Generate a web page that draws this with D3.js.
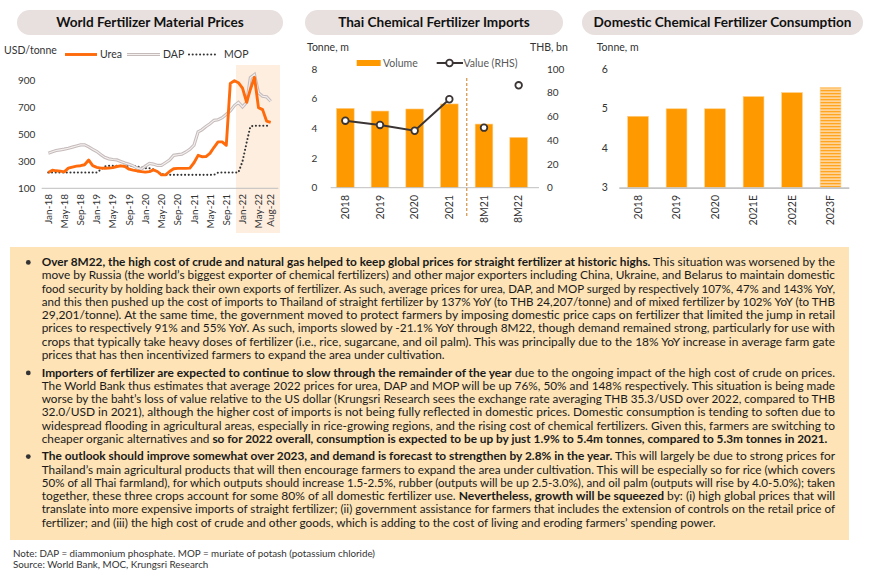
<!DOCTYPE html>
<html>
<head>
<meta charset="utf-8">
<script src="https://cdn.jsdelivr.net/npm/d3@7"></script>
<style>
  body { margin: 0; background: #fff; }
  svg { display: block; font-family: Lato, "Open Sans", sans-serif; }
</style>
</head>
<body>
<svg id="chart" width="870" height="579"></svg>
<script>

// ---- data: world fertilizer prices (USD/tonne), Jan-18 .. Aug-22
var months = d3.timeMonth.range(new Date(2018, 0, 1), new Date(2022, 8, 1));
var urea = [217, 235, 230, 228, 222, 250, 258, 265, 268, 275, 310, 268,
            256, 250, 249, 250, 254, 262, 267, 262, 242, 235, 229, 224,
            220, 224, 237, 225, 200, 200, 225, 245, 248, 248, 248, 250,
            290, 345, 335, 336, 360, 405, 445, 445, 420, 880, 900, 885,
            845, 740, 835, 925, 700, 685, 600, 590];
var dap = [361, 372, 381, 386, 391, 398, 406, 415, 423, 423, 408, 390,
           373, 350, 330, 319, 314, 311, 300, 288, 278, 267, 250, 242,
           265, 285, 280, 270, 270, 290, 310, 345, 350, 354, 370, 390,
           420, 520, 535, 560, 580, 605, 610, 625, 650, 675, 715, 739,
           705, 739, 922, 946, 810, 784, 780, 747];
var mop = [217, 217, 217, 217, 217, 217, 217, 217, 217, 217, 217, 217,
           217, 240, 262, 267, 267, 267, 267, 267, 267, 267, 262, 255,
           250, 249, 240, 222, 205, 200, 200, 200, 200, 200, 200, 200,
           200, 200, 200, 200, 200, 200, 217, 217, 217, 217, 217, 217,
           300, 440, 560, 565, 565, 565, 565, 565];
var priceTicks = [100, 300, 500, 700, 900];
var monthTicks = ["Jan-18", "May-18", "Sep-18", "Jan-19", "May-19", "Sep-19", "Jan-20",
                  "May-20", "Sep-20", "Jan-21", "May-21", "Sep-21", "Jan-22", "May-22", "Aug-22"];

// ---- data: Thai imports
var importCats = ["2018", "2019", "2020", "2021", "8M21", "8M22"];
var importVolume = [5.36, 5.18, 5.32, 5.66, 4.30, 3.40];   // tonne, m
var importValue = [56.6, 53.0, 48.1, 74.7, 50.7, 86.5];    // THB bn
var importTicksL = [0, 2, 4, 6, 8];
var importTicksR = [0, 20, 40, 60, 80, 100];

// ---- data: domestic consumption
var consCats = ["2018", "2019", "2020", "2021E", "2022E", "2023F"];
var consVolume = [4.81, 5.0, 5.0, 5.31, 5.41, 5.54];
var consTicks = [3, 4, 5, 6];

var svg = d3.select("#chart");
var orange = "#ff9900";

var defs = svg.append("defs");
var pat = defs.append("pattern")
    .attr("id", "stripes")
    .attr("patternUnits", "userSpaceOnUse")
    .attr("width", 6).attr("height", 3);
pat.append("rect").attr("width", 6).attr("height", 3).attr("fill", "#fed49a");
pat.append("rect").attr("width", 6).attr("height", 1.3).attr("fill", "#ffa51f");

// title pill helper
function pill(x0, x1, label) {
    svg.append("rect")
        .attr("x", x0).attr("y", 10)
        .attr("width", x1 - x0).attr("height", 25)
        .attr("rx", 12.5)
        .attr("fill", "#e8e0de");
    svg.append("text")
        .attr("x", (x0 + x1) / 2).attr("y", 27.3)
        .attr("text-anchor", "middle")
        .attr("font-size", "13.6px")
        .attr("font-weight", "bold")
        .attr("fill", "#111")
        .text(label);
}

function label(x, y, txt, opts) {
    opts = opts || {};
    return svg.append("text")
        .attr("x", x).attr("y", y)
        .attr("font-size", opts.size || "10.5px")
        .attr("fill", opts.fill || "#333")
        .attr("text-anchor", opts.anchor || "start")
        .text(txt);
}

// =================== chart 1: World Fertilizer Material Prices
pill(17, 283, "World Fertilizer Material Prices");

var x1 = d3.scaleTime()
    .domain([months[0], months[months.length - 1]])
    .range([48.3, 270.7]);
var y1 = d3.scaleLinear().domain([100, 900]).range([188.3, 80.7]);

// shaded 2022 window
svg.append("rect")
    .attr("x", x1(new Date(2021, 10, 13)))
    .attr("y", 65)
    .attr("width", 280 - x1(new Date(2021, 10, 13)))
    .attr("height", 168)
    .attr("fill", "#fdeee0");

svg.append("line")
    .attr("x1", 41.7).attr("x2", 278.3)
    .attr("y1", y1(100)).attr("y2", y1(100))
    .attr("stroke", "#bfbfbf").attr("stroke-width", 1);

svg.selectAll(".ytick1")
    .data(priceTicks)
    .enter()
    .append("text")
    .attr("x", 18)
    .attr("y", function(d) { return y1(d); })
    .attr("dy", "0.35em")
    .attr("font-size", "10px")
    .attr("fill", "#333")
    .text(function(d) { return d; });

var parseMon = d3.timeParse("%b-%y");
svg.selectAll(".xtick1")
    .data(monthTicks)
    .enter()
    .append("text")
    .attr("transform", function(d) {
        return "translate(" + (x1(parseMon(d)) + 3.6) + ",194) rotate(-90)";
    })
    .attr("text-anchor", "end")
    .attr("font-size", "10px")
    .attr("fill", "#333")
    .text(function(d) { return d; });

var line1 = d3.line()
    .x(function(d, i) { return x1(months[i]); })
    .y(function(d) { return y1(d); });

svg.append("path").datum(mop).attr("d", line1)
    .attr("fill", "none").attr("stroke", "#333")
    .attr("stroke-width", 2.1).attr("stroke-linecap", "round")
    .attr("stroke-dasharray", "0,3.7");
svg.append("path").datum(dap).attr("d", line1)
    .attr("fill", "none").attr("stroke", "#c6bbbb").attr("stroke-width", 3.2);
svg.append("path").datum(dap).attr("d", line1)
    .attr("fill", "none").attr("stroke", "#f4f0f0").attr("stroke-width", 1.1);
svg.append("path").datum(urea).attr("d", line1)
    .attr("fill", "none").attr("stroke", "#ff6a0a").attr("stroke-width", 2.9)
    .attr("stroke-linejoin", "round");

// legend
label(4, 54, "USD/tonne");
svg.append("line").attr("x1", 65).attr("x2", 97).attr("y1", 54.5).attr("y2", 54.5)
    .attr("stroke", "#ff6a0a").attr("stroke-width", 2.9);
label(100, 58, "Urea");
svg.append("line").attr("x1", 127).attr("x2", 160).attr("y1", 54.5).attr("y2", 54.5)
    .attr("stroke", "#c6bbbb").attr("stroke-width", 3.2);
svg.append("line").attr("x1", 127).attr("x2", 160).attr("y1", 54.5).attr("y2", 54.5)
    .attr("stroke", "#f4f0f0").attr("stroke-width", 1.1);
label(163, 58, "DAP");
svg.append("line").attr("x1", 189).attr("x2", 218).attr("y1", 54.5).attr("y2", 54.5)
    .attr("stroke", "#333").attr("stroke-width", 2.1)
    .attr("stroke-linecap", "round").attr("stroke-dasharray", "0,3.7");
label(224, 58, "MOP");

// =================== chart 2: Thai Chemical Fertilizer Imports
pill(305, 563, "Thai Chemical Fertilizer Imports");

var x2 = d3.scaleBand().domain(importCats).range([328, 536]).paddingInner(0.49).paddingOuter(0.245);
var y2 = d3.scaleLinear().domain([0, 8]).range([187.7, 69.3]);
var y2r = d3.scaleLinear().domain([0, 100]).range([187.7, 69.3]);

label(307, 51, "Tonne, m");
label(530, 51, "THB, bn");

svg.selectAll(".ytickL2").data(importTicksL).enter().append("text")
    .attr("x", 311.5).attr("y", function(d) { return y2(d); }).attr("dy", "0.35em")
    .attr("font-size", "10px").attr("fill", "#333")
    .text(function(d) { return d; });
svg.selectAll(".ytickR2").data(importTicksR).enter().append("text")
    .attr("x", 547).attr("y", function(d) { return y2r(d); }).attr("dy", "0.35em")
    .attr("font-size", "10px").attr("fill", "#333")
    .text(function(d) { return d; });

svg.selectAll(".bar2")
    .data(importVolume)
    .enter()
    .append("rect")
    .attr("x", function(d, i) { return x2(importCats[i]); })
    .attr("y", function(d) { return y2(d); })
    .attr("width", x2.bandwidth())
    .attr("height", function(d) { return y2(0) - y2(d); })
    .attr("fill", orange)
    .attr("stroke", "#ffd08a").attr("stroke-width", 0.6);

svg.append("line")
    .attr("x1", 330.7).attr("x2", 539)
    .attr("y1", y2(0)).attr("y2", y2(0))
    .attr("stroke", "#bfbfbf");

// divider between full year and 8M
svg.append("line")
    .attr("x1", 466.7).attr("x2", 466.7).attr("y1", 78).attr("y2", 218)
    .attr("stroke", "#d9a35f").attr("stroke-width", 1.4)
    .attr("stroke-dasharray", "3,2");

var line2 = d3.line()
    .x(function(d, i) { return x2(importCats[i]) + x2.bandwidth() / 2; })
    .y(function(d) { return y2r(d); });
svg.append("path").datum(importValue.slice(0, 4)).attr("d", line2)
    .attr("fill", "none").attr("stroke", "#3b3434").attr("stroke-width", 2);
svg.selectAll(".dot2")
    .data(importValue)
    .enter()
    .append("circle")
    .attr("cx", function(d, i) { return x2(importCats[i]) + x2.bandwidth() / 2; })
    .attr("cy", function(d) { return y2r(d); })
    .attr("r", 3.3)
    .attr("fill", "#fff").attr("stroke", "#3b3434").attr("stroke-width", 1.8);

svg.selectAll(".xtick2").data(importCats).enter().append("text")
    .attr("transform", function(d) {
        return "translate(" + (x2(d) + x2.bandwidth() / 2 + 3.6) + ",195) rotate(-90)";
    })
    .attr("text-anchor", "end").attr("font-size", "10.5px").attr("fill", "#333")
    .text(function(d) { return d; });

// legend
svg.append("rect").attr("x", 356.7).attr("y", 60).attr("width", 24).attr("height", 6).attr("fill", orange);
label(383, 66.8, "Volume", { fill: "#595959" });
svg.append("line").attr("x1", 436.7).attr("x2", 463).attr("y1", 63).attr("y2", 63)
    .attr("stroke", "#3b3434").attr("stroke-width", 2);
svg.append("circle").attr("cx", 449.5).attr("cy", 63).attr("r", 3.3)
    .attr("fill", "#fff").attr("stroke", "#3b3434").attr("stroke-width", 1.8);
label(463.5, 66.8, "Value (RHS)", { fill: "#595959" });

// =================== chart 3: Domestic Chemical Fertilizer Consumption
pill(582, 863, "Domestic Chemical Fertilizer Consumption");

var x3 = d3.scaleBand().domain(consCats).range([618.8, 849.8]).paddingInner(0.46).paddingOuter(0.23);
var y3 = d3.scaleLinear().domain([3, 6]).range([187.7, 69.3]);

label(596.7, 51, "Tonne, m");
svg.selectAll(".ytick3").data(consTicks).enter().append("text")
    .attr("x", 601.7).attr("y", function(d) { return y3(d); }).attr("dy", "0.35em")
    .attr("font-size", "10.5px").attr("fill", "#333")
    .text(function(d) { return d; });

svg.selectAll(".bar3")
    .data(consVolume)
    .enter()
    .append("rect")
    .attr("x", function(d, i) { return x3(consCats[i]); })
    .attr("y", function(d) { return y3(d); })
    .attr("width", x3.bandwidth())
    .attr("height", function(d) { return y3(3) - y3(d); })
    .attr("fill", function(d, i) { return consCats[i].slice(-1) === "F" ? "url(#stripes)" : orange; })
    .attr("stroke", "#ffd08a").attr("stroke-width", 0.6);

svg.append("line")
    .attr("x1", 619.3).attr("x2", 849.3)
    .attr("y1", y3(3) + 0.5).attr("y2", y3(3) + 0.5)
    .attr("stroke", "#c4c4c4").attr("stroke-width", 1.8);

svg.selectAll(".xtick3").data(consCats).enter().append("text")
    .attr("transform", function(d) {
        return "translate(" + (x3(d) + x3.bandwidth() / 2 + 3.6) + ",195) rotate(-90)";
    })
    .attr("text-anchor", "end").attr("font-size", "10.5px").attr("fill", "#333")
    .text(function(d) { return d; });

// =================== commentary box
svg.append("rect")
    .attr("x", 10).attr("y", 247)
    .attr("width", 839).attr("height", 293)
    .attr("fill", "#fde3b6");

// each line: list of [text, bold]
var paragraphs = [
  [
    [["Over 8M22, the high cost of crude and natural gas helped to keep global prices for straight fertilizer at historic highs.", 1], [" This situation was worsened by the", 0]],
    [["move by Russia (the world\u2019s biggest exporter of chemical fertilizers) and other major exporters including China, Ukraine, and Belarus to maintain domestic", 0]],
    [["food security by holding back their own exports of fertilizer. As such, average prices for urea, DAP, and MOP surged by respectively 107%, 47% and 143% YoY,", 0]],
    [["and this then pushed up the cost of imports to Thailand of straight fertilizer by 137% YoY (to THB 24,207/tonne) and of mixed fertilizer by 102% YoY (to THB", 0]],
    [["29,201/tonne). At the same time, the government moved to protect farmers by imposing domestic price caps on fertilizer that limited the jump in retail", 0]],
    [["prices to respectively 91% and 55% YoY. As such, imports slowed by -21.1% YoY through 8M22, though demand remained strong, particularly for use with", 0]],
    [["crops that typically take heavy doses of fertilizer (i.e., rice, sugarcane, and oil palm). This was principally due to the 18% YoY increase in average farm gate", 0]],
    [["prices that has then incentivized farmers to expand the area under cultivation.", 0]]
  ],
  [
    [["Importers of fertilizer are expected to continue to slow through the remainder of the year", 1], [" due to the ongoing impact of the high cost of crude on prices.", 0]],
    [["The World Bank thus estimates that average 2022 prices for urea, DAP and MOP will be up 76%, 50% and 148% respectively. This situation is being made", 0]],
    [["worse by the baht\u2019s loss of value relative to the US dollar (Krungsri Research sees the exchange rate averaging THB 35.3/USD over 2022, compared to THB", 0]],
    [["32.0/USD in 2021), although the higher cost of imports is not being fully reflected in domestic prices. Domestic consumption is tending to soften due to", 0]],
    [["widespread flooding in agricultural areas, especially in rice-growing regions, and the rising cost of chemical fertilizers. Given this, farmers are switching to", 0]],
    [["cheaper organic alternatives and ", 0], ["so for 2022 overall, consumption is expected to be up by just 1.9% to 5.4m tonnes, compared to 5.3m tonnes in 2021.", 1]]
  ],
  [
    [["The outlook should improve somewhat over 2023, and demand is forecast to strengthen by 2.8% in the year.", 1], [" This will largely be due to strong prices for", 0]],
    [["Thailand\u2019s main agricultural products that will then encourage farmers to expand the area under cultivation. This will be especially so for rice (which covers", 0]],
    [["50% of all Thai farmland), for which outputs should increase 1.5-2.5%, rubber (outputs will be up 2.5-3.0%), and oil palm (outputs will rise by 4.0-5.0%); taken", 0]],
    [["together, these three crops account for some 80% of all domestic fertilizer use. ", 0], ["Nevertheless, growth will be squeezed", 1], [" by: (i) high global prices that will", 0]],
    [["translate into more expensive imports of straight fertilizer; (ii) government assistance for farmers that includes the extension of controls on the retail price of", 0]],
    [["fertilizer; and (iii) the high cost of crude and other goods, which is adding to the cost of living and eroding farmers\u2019 spending power.", 0]]
  ]
];
var paraTop = [266.2, 376.7, 460.4];
var lineH = 13.25, textX = 41.7, textW = 793.3;

var allLines = [];
paragraphs.forEach(function(p, pi) {
    svg.append("circle")
        .attr("cx", 28.3).attr("cy", paraTop[pi] - 3.8).attr("r", 2.4)
        .attr("fill", "#333");
    p.forEach(function(segs, li) {
        var t = svg.append("text")
            .attr("x", textX)
            .attr("y", paraTop[pi] + li * lineH)
            .attr("font-size", "11.6px")
            .attr("fill", "#1a1a1a")
            .style("white-space", "pre");
        segs.forEach(function(s) {
            t.append("tspan").attr("font-weight", s[1] ? "bold" : "normal").text(s[0]);
        });
        allLines.push({ node: t, last: li === p.length - 1 });
    });
});

// justify: full lines stretched to box width, last lines scaled by the same ratio
var ratios = [];
allLines.forEach(function(l) {
    l.w = l.node.node().getComputedTextLength();
    if (!l.last) ratios.push(textW / l.w);
});
var ratio = d3.mean(ratios);
allLines.forEach(function(l) {
    var len = l.last ? Math.min(textW, l.w * ratio) : textW;
    l.node.attr("textLength", len).attr("lengthAdjust", "spacingAndGlyphs");
});

// footer
label(13, 557, "Note: DAP = diammonium phosphate. MOP = muriate of potash (potassium chloride)", { size: "9.8px" });
label(13, 567.5, "Source: World Bank, MOC, Krungsri Research", { size: "9.8px" });

</script>
</body>
</html>
